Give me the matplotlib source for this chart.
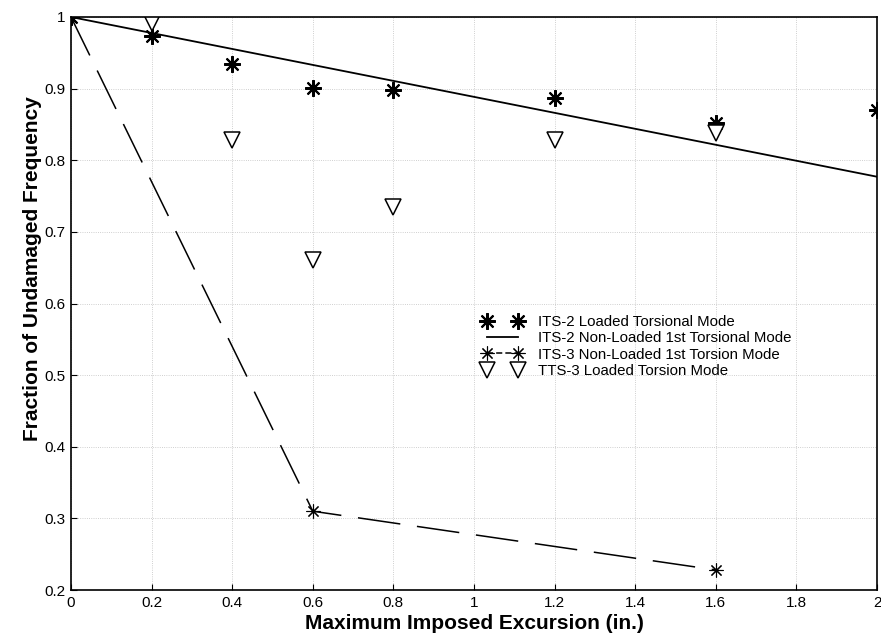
import matplotlib.pyplot as plt

# ITS-2 loaded torsional mode (bold asterisks)
its2_loaded_x = [0.0, 0.2, 0.4, 0.6, 0.8, 1.2, 1.6, 2.0]
its2_loaded_y = [1.0, 0.974, 0.935, 0.901, 0.898, 0.887, 0.852, 0.870]

# ITS-2 non-loaded 1st torsional mode (solid line)
its2_nonloaded_x = [0.0, 2.0]
its2_nonloaded_y = [1.0, 0.777]

# ITS-3 non-loaded 1st torsion mode (dashed with asterisks)
its3_x = [0.0, 0.6, 1.6]
its3_y = [1.0, 0.310, 0.228]

# TTS-3 loaded torsion mode (triangles)
tts3_x = [0.2, 0.4, 0.6, 0.8, 1.2, 1.6]
tts3_y = [0.992, 0.828, 0.661, 0.735, 0.828, 0.838]

xticks = [0, 0.2, 0.4, 0.6, 0.8, 1, 1.2, 1.4, 1.6, 1.8, 2]
xtick_labels = ['0', '0.2', '0.4', '0.6', '0.8', '1', '1.2', '1.4', '1.6', '1.8', '2']
yticks = [0.2, 0.3, 0.4, 0.5, 0.6, 0.7, 0.8, 0.9, 1.0]
ytick_labels = ['0.2', '0.3', '0.4', '0.5', '0.6', '0.7', '0.8', '0.9', '1']

plt.rcParams['font.family'] = ['Liberation Sans', 'DejaVu Sans']

fig = plt.figure(figsize=(8.81, 6.36), dpi=100)
ax = fig.add_axes([71 / 881, 46 / 636, 806 / 881, 573 / 636])

ax.plot(its2_loaded_x, its2_loaded_y, linestyle='none', marker=(8, 2, 0),
        markersize=12, markeredgewidth=1.5, color='black',
        label='ITS-2 Loaded Torsional Mode')
ax.plot(its2_nonloaded_x, its2_nonloaded_y, color='black', linewidth=1.3,
        label='ITS-2 Non-Loaded 1st Torsional Mode')
ax.plot(its3_x, its3_y, color='black', linewidth=1.1, dashes=(28, 11),
        marker=(8, 2, 0), markersize=10, markeredgewidth=0.8,
        label='ITS-3 Non-Loaded 1st Torsion Mode')
ax.plot(tts3_x, tts3_y, linestyle='none', marker='v', markersize=11,
        markerfacecolor='white', markeredgecolor='black', markeredgewidth=1.1,
        label='TTS-3 Loaded Torsion Mode')

ax.set_xlim(0, 2)
ax.set_ylim(0.2, 1.0)
ax.set_xticks(xticks)
ax.set_xticklabels(xtick_labels, fontsize=11)
ax.set_yticks(yticks)
ax.set_yticklabels(ytick_labels, fontsize=11)
ax.tick_params(direction='in', length=4, pad=4)
ax.grid(True, linestyle=':', linewidth=0.6, color='#c0c0c0')
for s in ax.spines.values():
    s.set_linewidth(1.2)

ax.set_xlabel('Maximum Imposed Excursion (in.)', fontsize=15, fontweight='bold', labelpad=3)
ax.set_ylabel('Fraction of Undamaged Frequency', fontsize=15, fontweight='bold')
ax.yaxis.set_label_coords(-0.036, 0.56)

leg = ax.legend(loc='upper left', bbox_to_anchor=(0.503, 0.49), frameon=False,
                numpoints=2, handlelength=2.7, fontsize=10.8, labelspacing=0.15,
                handletextpad=1.0, borderaxespad=0)
# short dashes inside the legend sample so both markers show
leg.get_lines()[2].set_dashes((4, 2))

fig.savefig('out.png', dpi=100)
plt.close('all')
